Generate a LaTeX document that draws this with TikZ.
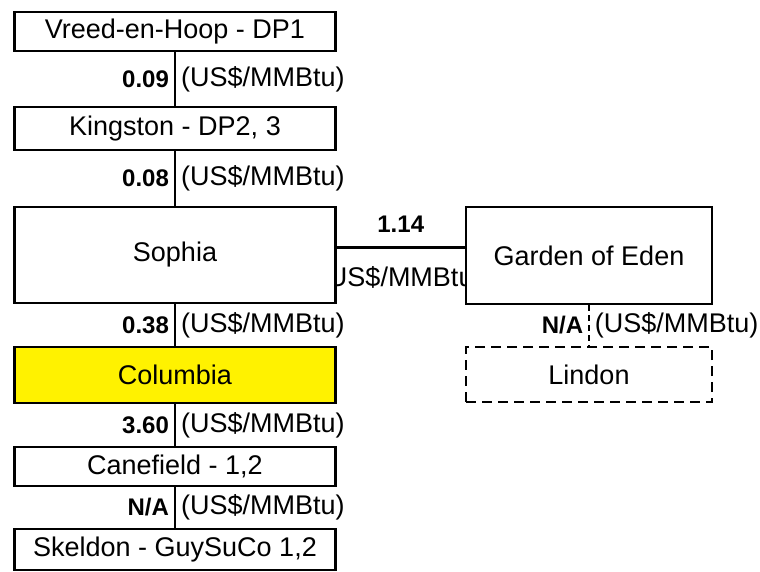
\documentclass[tikz,border=0pt]{standalone}
\usepackage{fontspec}
\setmainfont{Liberation Sans}
\usetikzlibrary{backgrounds}

\begin{document}
\begin{tikzpicture}[x=1pt,y=-1pt,
    station/.style={draw,line width=2.2pt,fill=white,minimum width=321pt,inner sep=0pt,font=\fontsize{27}{30}\selectfont},
    link/.style={line width=2.2pt},
    val/.style={font=\bfseries\fontsize{24}{28}\selectfont,anchor=east,inner sep=5pt},
    unit/.style={font=\fontsize{27}{30}\selectfont,anchor=west,inner sep=5pt}]
  \useasboundingbox (0,0) rectangle (760,572);
  % main line
  \node[station,minimum height=39pt] (vreed) at (175,31.5) {Vreed-en-Hoop - DP1};
  \node[station,minimum height=43pt] (kingston) at (175,128.5) {Kingston - DP2, 3};
  \node[station,minimum height=96pt] (sophia) at (175,255) {Sophia};
  \node[station,minimum height=56pt,fill=yellow] (columbia) at (175,375) {Columbia};
  \node[station,minimum height=39pt] (canefield) at (175,466.5) {Canefield - 1,2};
  \node[station,minimum height=41pt] (skeldon) at (175,549.5) {Skeldon - GuySuCo 1,2};
  % branch
  \node[station,minimum width=246pt,minimum height=97pt] (garden) at (589,255.5) {Garden of Eden};
  \node[station,minimum width=246pt,minimum height=55pt,dash pattern=on 10pt off 6pt] (lindon) at (589,374.5) {Lindon};

  \draw[link] (vreed) -- (kingston) node[midway,val] {0.09} node[midway,unit] {(US\$/MMBtu)};
  \draw[link] (kingston) -- (sophia) node[midway,val] {0.08} node[midway,unit] {(US\$/MMBtu)};
  \draw[link] (sophia) -- (columbia) node[midway,val] {0.38} node[midway,unit] {(US\$/MMBtu)};
  \draw[link] (columbia) -- (canefield) node[midway,val] {3.60} node[midway,unit] {(US\$/MMBtu)};
  \draw[link] (canefield) -- (skeldon) node[midway,val] {N/A} node[midway,unit] {(US\$/MMBtu)};
  \draw[link,line width=1.8pt,dash pattern=on 6pt off 4pt] (garden) -- (lindon) node[midway,val] {N/A} node[midway,unit] {(US\$/MMBtu)};

  \draw[link,line width=2.8pt] ([yshift=7.5pt]sophia.east) -- ([yshift=7.5pt]sophia.east -| garden.west) coordinate[midway] (mid);
  \node[val,anchor=center] at ([yshift=23pt]mid) {1.14};
  \begin{scope}[on background layer]
    \node[unit,anchor=center] at ([yshift=-32pt]mid) {(US\$/MMBtu)};
  \end{scope}
\end{tikzpicture}
\end{document}
